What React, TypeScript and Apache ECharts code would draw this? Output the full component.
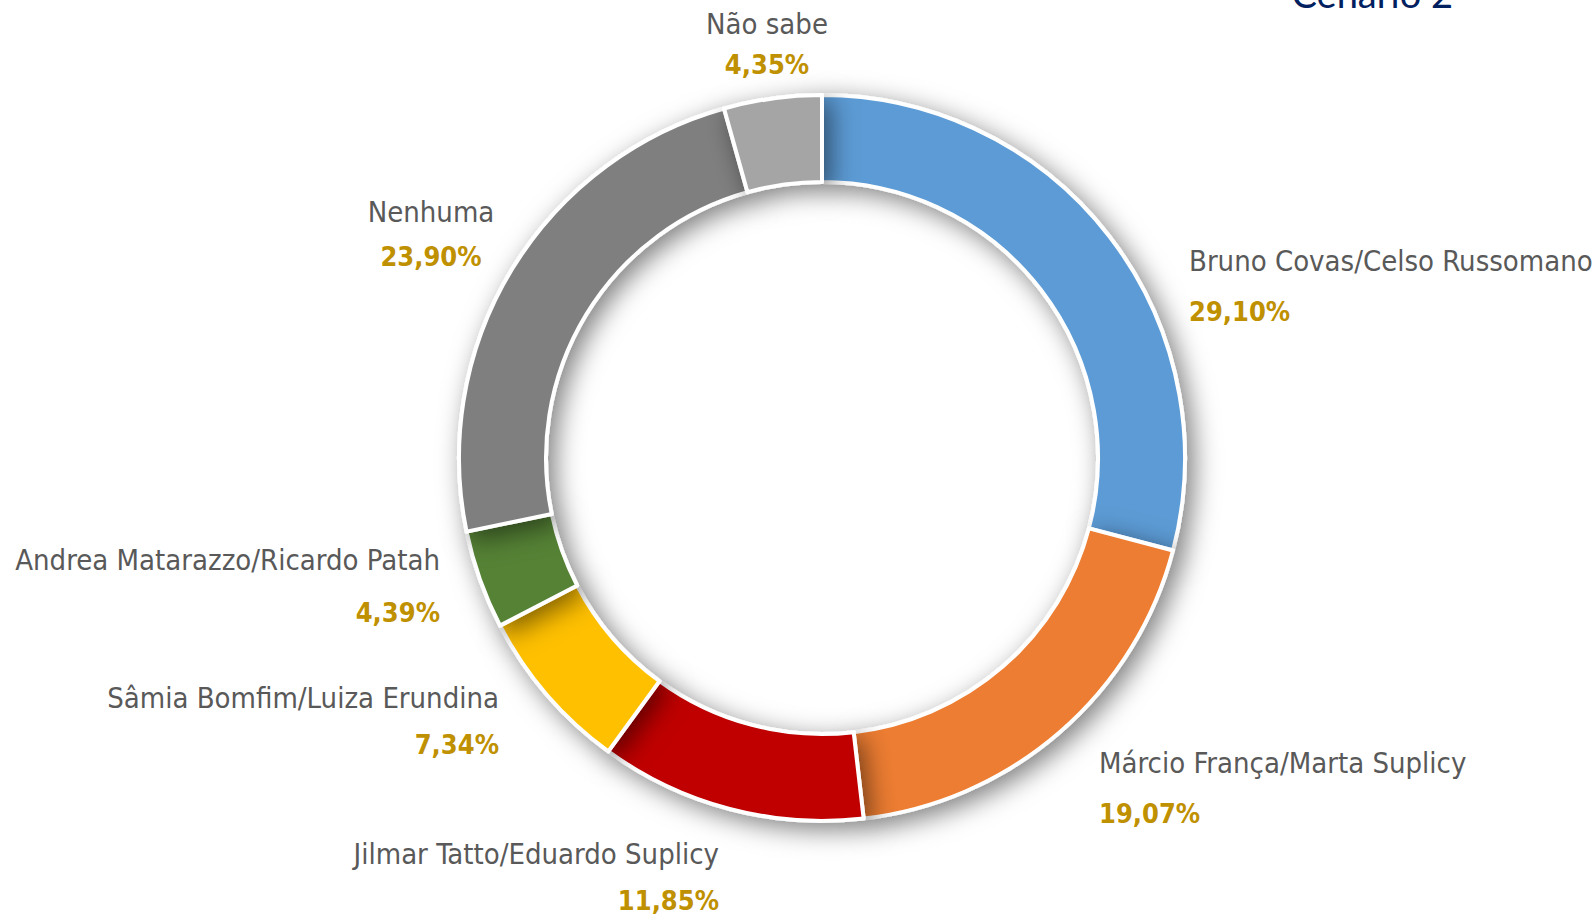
import React, { useEffect, useRef } from "react";
import * as echarts from "echarts";

const categories = [
  "Bruno Covas/Celso Russomano",
  "Márcio França/Marta Suplicy",
  "Jilmar Tatto/Eduardo Suplicy",
  "Sâmia Bomfim/Luiza Erundina",
  "Andrea Matarazzo/Ricardo Patah",
  "Nenhuma",
  "Não sabe",
];
const values = [29.1, 19.07, 11.85, 7.34, 4.39, 23.9, 4.35];
const colors = ["#5B9BD5", "#ED7D31", "#C00000", "#FFC000", "#548235", "#7F7F7F", "#A5A5A5"];
const title = "Cenário 2";

// label anchor positions (layout/style, not data)
const labelPos: { x: number; y: number; align: string; gap: number }[] = [
  { x: 1189, y: 286, align: "left", gap: 50 },
  { x: 1099, y: 788, align: "left", gap: 50 },
  { x: 719, y: 877, align: "right", gap: 46 },
  { x: 499, y: 721, align: "right", gap: 47 },
  { x: 440, y: 586, align: "right", gap: 52 },
  { x: 431, y: 234, align: "center", gap: 44 },
  { x: 767, y: 44, align: "center", gap: 40 },
];

const FONT = "'DejaVu Sans Condensed', 'Liberation Sans Narrow', sans-serif";

export default function App() {
  const ref = useRef<HTMLDivElement>(null);
  useEffect(() => {
    if (!ref.current) return;
    const chart = echarts.init(ref.current, null, { renderer: "svg" });
    const fmt = (v: number) => v.toFixed(2).replace(".", ",") + "%";
    chart.setOption({
      animation: false,
      backgroundColor: "#ffffff",
      graphic: [
        {
          type: "text",
          right: 142,
          top: -26,
          style: {
            text: title,
            fill: "#002060",
            font: "38px Lato, 'Open Sans', sans-serif",
          },
        },
      ],
      series: [
        {
          type: "pie",
          center: [822, 458],
          radius: [276, 363],
          startAngle: 90,
          clockwise: true,
          avoidLabelOverlap: false,
          itemStyle: {
            borderColor: "#ffffff",
            borderWidth: 4,
            shadowBlur: 26,
            shadowColor: "rgba(0,0,0,0.5)",
            shadowOffsetX: 7,
            shadowOffsetY: 7,
          },
          emphasis: { disabled: true },
          labelLine: { show: false },
          label: {
            show: true,
            position: "outside",
            formatter: (p: any) => `{n|${p.name}}\n{v|${fmt(p.value)}}`,
          },
          labelLayout: (params: any) => {
            const lp = labelPos[params.dataIndex];
            return {
              x: lp.x,
              y: lp.y,
              align: lp.align,
              verticalAlign: "middle",
            };
          },
          data: categories.map((name, i) => ({
            name,
            value: values[i],
            itemStyle: { color: colors[i] },
            label: {
              align: labelPos[i].align,
              rich: {
                n: {
                  fontFamily: FONT,
                  fontSize: 29,
                  color: "#595959",
                  lineHeight: labelPos[i].gap,
                  align: labelPos[i].align,
                },
                v: {
                  fontFamily: FONT,
                  fontSize: 27,
                  fontWeight: "bold",
                  color: "#BF9000",
                  lineHeight: labelPos[i].gap,
                  align: labelPos[i].align,
                },
              },
            },
          })),
        },
      ],
    });
    return () => chart.dispose();
  }, []);
  return (
    <div
      ref={ref}
      style={{ position: "fixed", left: 0, top: 0, width: 1595, height: 919 }}
    />
  );
}
